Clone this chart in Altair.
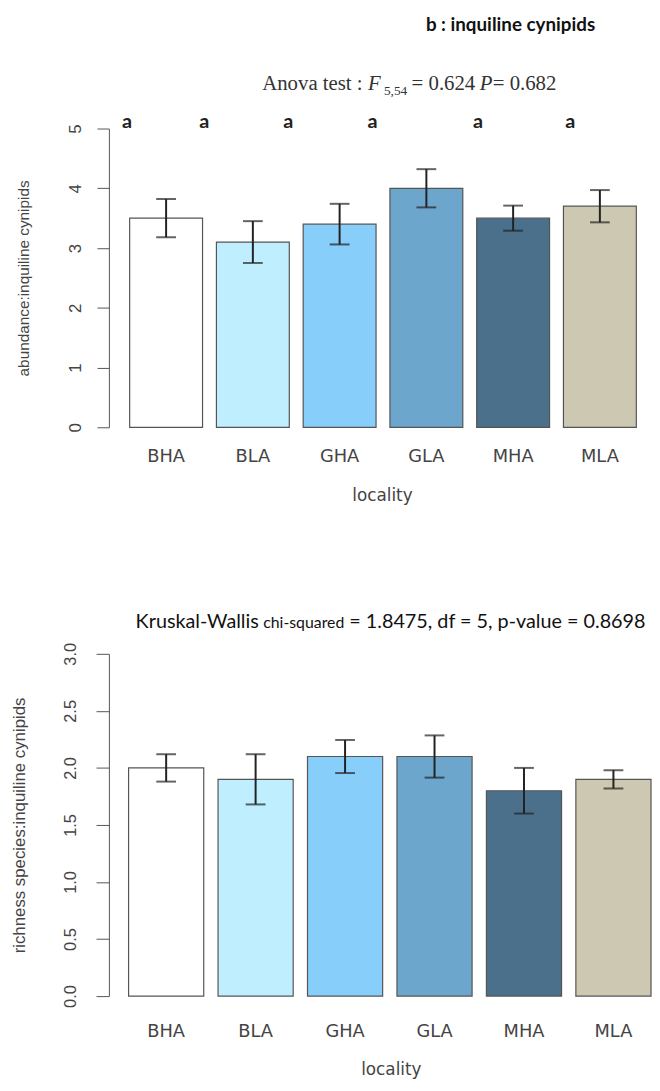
import altair as alt
import pandas as pd

# ---------------- data ----------------
localities = ["BHA", "BLA", "GHA", "GLA", "MHA", "MLA"]
bar_colors = ["#FFFFFF", "#BFEFFF", "#87CEFA", "#6CA6CD", "#4A708B", "#CDC8B1"]

abundance_mean = [3.5, 3.1, 3.4, 4.0, 3.5, 3.7]
abundance_err = [0.32, 0.35, 0.34, 0.32, 0.21, 0.27]
group_letters = ["a", "a", "a", "a", "a", "a"]
letter_shift = [-39.5, -49, -52, -54.5, -35.5, -30]

richness_mean = [2.0, 1.9, 2.1, 2.1, 1.8, 1.9]
richness_err = [0.12, 0.22, 0.145, 0.185, 0.20, 0.08]

abundance_ticks = [0, 1, 2, 3, 4, 5]
richness_ticks = [0.0, 0.5, 1.0, 1.5, 2.0, 2.5, 3.0]

panel_title = "b : inquiline cynipids"
anova_parts = ["Anova test :", "F", "5,54", "= 0.624", "P", "= 0.682"]
kruskal_parts = ["Kruskal-Wallis", "chi-squared", "= 1.8475, df = 5, p-value = 0.8698"]

LAB_FONT = "DejaVu Sans"
NUM_FONT = "Liberation Sans"
TXT = "#444444"
AX = "#555555"

color_scale = alt.Scale(domain=localities, range=bar_colors)


def frame(means, errs):
    d = pd.DataFrame({"locality": localities, "mean": means, "err": errs})
    d["lo"] = d["mean"] - d["err"]
    d["hi"] = d["mean"] + d["err"]
    return d


def note(text, x, y, **kw):
    return alt.Chart(pd.DataFrame({"t": [text]})).mark_text(
        align=kw.pop("align", "left"), baseline="middle", **kw
    ).encode(x=alt.value(x), y=alt.value(y), text="t:N")


def anchor(x, y1, y2):
    return alt.Chart(pd.DataFrame({"k": [0]})).mark_rule(
        strokeOpacity=0, strokeWidth=1
    ).encode(x=alt.value(x), x2=alt.value(x), y=alt.value(y1), y2=alt.value(y2))


def panel(d, W, H, ymax, ticks, fmt, ytitle, xscale, tick_size, lab_pad,
          ylab_size, ytitle_size, ytitle_x, xlab_pad, xtitle_x, xtitle_y):
    ysc = alt.Scale(domain=[0, ymax], nice=False, zero=True)
    xenc = alt.X(
        "locality:N", sort=localities, scale=xscale,
        axis=alt.Axis(
            title="locality", domain=False, ticks=False, tickSize=0,
            labelAngle=0, labelFont=LAB_FONT, labelFontSize=18, labelColor=TXT,
            labelPadding=xlab_pad, labelBaseline="middle",
            titleFont=LAB_FONT, titleFontSize=17, titleColor=TXT,
            titleFontWeight="normal", titleX=xtitle_x, titleY=xtitle_y,
            titleAlign="center", titleBaseline="middle",
        ),
    )
    xplain = alt.X("locality:N", sort=localities, scale=xscale)
    yenc = alt.Y(
        "mean:Q", scale=ysc,
        axis=alt.Axis(
            values=ticks, format=fmt, grid=False, tickSize=tick_size,
            tickColor=AX, domainColor=AX, labelAngle=270, labelAlign="center",
            labelBaseline="middle", labelPadding=lab_pad, labelFont=NUM_FONT,
            labelFontSize=ylab_size, labelColor=TXT, title=ytitle,
            titleFont=NUM_FONT, titleFontSize=ytitle_size, titleFontWeight="normal",
            titleColor=TXT, titleAngle=270, titleX=ytitle_x, titleY=H / 2,
            titleAlign="center", titleBaseline="middle",
        ),
    )
    base = alt.Chart(d)
    bars = base.mark_bar(stroke="#555555", strokeWidth=1.2).encode(
        x=xenc, y=yenc,
        fill=alt.Fill("locality:N", scale=color_scale, legend=None),
    )
    stem = base.mark_rule(color="#222222", strokeWidth=2).encode(
        x=xplain, y=alt.Y("lo:Q", scale=ysc), y2="hi:Q"
    )
    cap_lo = base.mark_tick(color="#222222", thickness=2, size=20, orient="horizontal").encode(
        x=xplain, y=alt.Y("lo:Q", scale=ysc)
    )
    cap_hi = base.mark_tick(color="#222222", thickness=2, size=20, orient="horizontal").encode(
        x=xplain, y=alt.Y("hi:Q", scale=ysc)
    )
    return bars, stem, cap_lo, cap_hi, xplain


# ---------------- top panel: abundance ----------------
W1, H1 = 537, 302
d1 = frame(abundance_mean, abundance_err)
d1["letter"] = group_letters
xs1 = alt.Scale(domain=localities, paddingInner=0.16, paddingOuter=0.1416,
                align=0.845, round=False)
b1, s1, cl1, ch1, xp1 = panel(d1, W1, H1, 5, abundance_ticks, "d",
                              "abundance:inquiline cynipids", xs1, 12, 22,
                              17, 15.5, -86, 30, 276, 69)
letter_layers = [
    alt.Chart(d1.iloc[[i]]).mark_text(
        font="Lato", fontWeight="bold", fontSize=20, color="#222222",
        baseline="middle", dx=letter_shift[i]
    ).encode(x=xp1, y=alt.value(-7), text="letter:N")
    for i in range(len(localities))
]
top_notes = [
    note(panel_title, 406, -105, align="center", font="Lato", fontWeight="bold",
         fontSize=19, color="#111111"),
    note(anova_parts[0], 155, -45, font="Liberation Serif", fontSize=21, color="#333333"),
    note(anova_parts[1], 262, -45, font="Liberation Serif", fontSize=21,
         fontStyle="italic", color="#333333"),
    note(anova_parts[2], 278, -38, font="Liberation Serif", fontSize=13.5, color="#333333"),
    note(anova_parts[3], 306, -45, font="Liberation Serif", fontSize=21, color="#333333"),
    note(anova_parts[4], 375, -45, font="Liberation Serif", fontSize=21,
         fontStyle="italic", color="#333333"),
    note(anova_parts[5], 388, -45, font="Liberation Serif", fontSize=21, color="#333333"),
]
top = alt.layer(
    anchor(-100, -116, 388), b1, s1, cl1, ch1, *letter_layers, *top_notes
).properties(width=W1, height=H1)

# ---------------- bottom panel: richness ----------------
W2, H2 = 548, 346
d2 = frame(richness_mean, richness_err)
xs2 = alt.Scale(domain=localities, paddingInner=0.16, paddingOuter=0.11,
                align=1.0, round=False)
b2, s2, cl2, ch2, xp2 = panel(d2, W2, H2, 3, richness_ticks, ".1f",
                              "richness species:inquiline cynipids", xs2, 13, 25.5,
                              16.5, 17, -90, 36, 285, 74)
bottom_notes = [
    note(kruskal_parts[0], 27, -32, font="Lato", fontSize=20, color="#111111"),
    note(kruskal_parts[1], 156, -31, font="Lato", fontSize=16, color="#111111"),
    note(kruskal_parts[2], 243, -32, font="Lato", fontSize=20, color="#111111"),
]
bottom = alt.layer(
    anchor(-102, -143, -142), b2, s2, cl2, ch2, *bottom_notes
).properties(width=W2, height=H2)

chart = alt.vconcat(top, bottom, spacing=0).properties(
    padding=0, background="white"
).configure_view(stroke=None)

chart.save("out.html", embed_options={"renderer": "svg", "actions": False})
